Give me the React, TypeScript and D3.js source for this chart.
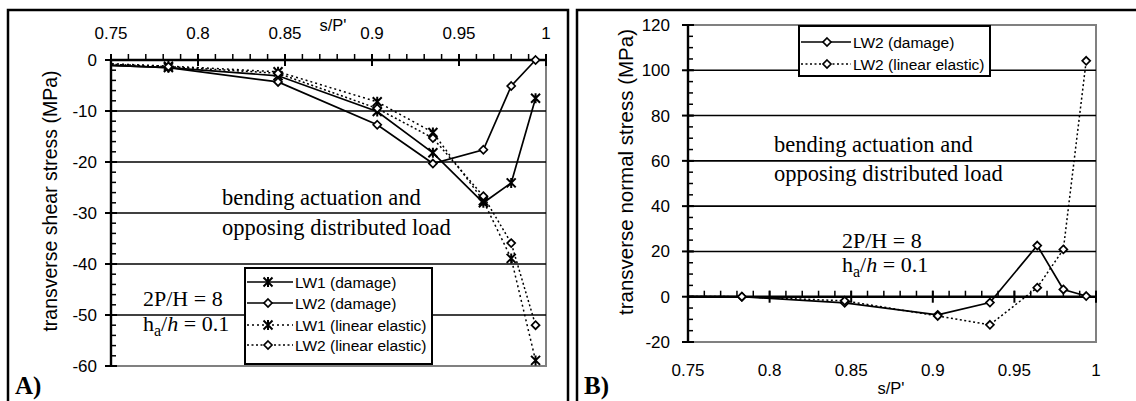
import React from "react";
import * as d3 from "d3";

// ---------- data ----------
const sPos = [0.719, 0.783, 0.846, 0.903, 0.935, 0.964, 0.98, 0.994];

const lw1Damage = [-0.6, -1.5, -3.1, -10.1, -18.2, -28.0, -24.1, -7.5];
const lw2Damage = [-0.6, -1.5, -4.3, -12.7, -20.3, -17.6, -5.1, 0];
const lw1Linear = [-0.3, -1.2, -2.3, -8.2, -14.2, -27.6, -38.9, -58.9];
const lw2Linear = [-0.4, -1.3, -2.6, -9.5, -15.3, -26.7, -35.9, -52.0];

const lw2DamageN = [0.3, 0, -2.7, -8.0, -2.6, 22.6, 3.2, 0.3];
const lw2LinearN = [0.3, 0, -1.8, -8.5, -12.4, 4.0, 20.9, 104.2];

const xTicks = [0.75, 0.8, 0.85, 0.9, 0.95, 1];
const yTicksA = [0, -10, -20, -30, -40, -50, -60];
const yTicksB = [120, 100, 80, 60, 40, 20, 0, -20];

const legendA = ["LW1 (damage)", "LW2 (damage)", "LW1 (linear elastic)", "LW2 (linear elastic)"];
const legendB = ["LW2 (damage)", "LW2 (linear elastic)"];

const SANS = "'Liberation Sans', Arial, sans-serif";
const SERIF = "'Liberation Serif', 'Times New Roman', serif";

type Series = { vals: number[]; marker: "star" | "diamond"; dash?: string };

function Marker({ x, y, kind }: { x: number; y: number; kind: "star" | "diamond" }) {
  if (kind === "star") {
    const r = 4.5;
    return (
      <path
        d={`M${x - r},${y - r}L${x + r},${y + r}M${x - r},${y + r}L${x + r},${y - r}M${x},${y - r - 0.5}L${x},${y + r + 0.5}`}
        stroke="#000"
        strokeWidth={2}
        fill="none"
      />
    );
  }
  const r = 4;
  return (
    <path
      d={`M${x},${y - r}L${x + r},${y}L${x},${y + r}L${x - r},${y}Z`}
      stroke="#000"
      strokeWidth={1.7}
      fill="#fff"
    />
  );
}

function SeriesPlot({
  series,
  x,
  y,
  clipId,
}: {
  series: Series[];
  x: d3.ScaleLinear<number, number>;
  y: d3.ScaleLinear<number, number>;
  clipId: string;
}) {
  const line = d3
    .line<number>()
    .x((_, i) => x(sPos[i]))
    .y((v) => y(v));
  return (
    <g clipPath={`url(#${clipId})`}>
      {series.map((s, k) => (
        <g key={k}>
          <path
            d={line(s.vals) || ""}
            fill="none"
            stroke="#000"
            strokeWidth={s.dash ? 1.5 : 1.7}
            strokeDasharray={s.dash}
          />
          {s.vals.map((v, i) => (
            <Marker key={i} x={x(sPos[i])} y={y(v)} kind={s.marker} />
          ))}
        </g>
      ))}
    </g>
  );
}

function Ticks({
  x,
  y0,
  xAxisY,
  yTickVals,
  yMinorStep,
  xLeft,
}: {
  x: d3.ScaleLinear<number, number>;
  y0: d3.ScaleLinear<number, number>;
  xAxisY: number;
  yTickVals: number[];
  yMinorStep: number;
  xLeft: number;
}) {
  const xMinor = d3.range(0, 26).map((i) => 0.75 + i * 0.01);
  const [ymin, ymax] = y0.domain();
  const nMinor = Math.round((ymax - ymin) / yMinorStep);
  const yMinor = d3.range(0, nMinor + 1).map((i) => ymin + i * yMinorStep);
  return (
    <g stroke="#000">
      <line x1={xLeft} x2={xLeft} y1={y0(ymin)} y2={y0(ymax)} strokeWidth={2.4} />
      {yMinor.map((v, i) => (
        <line key={"ym" + i} x1={xLeft} x2={xLeft + 5} y1={y0(v)} y2={y0(v)} strokeWidth={1.5} />
      ))}
      {yTickVals.map((v, i) => (
        <line key={"yM" + i} x1={xLeft - 6} x2={xLeft + 6} y1={y0(v)} y2={y0(v)} strokeWidth={2} />
      ))}
      <line x1={x(0.75)} x2={x(1)} y1={xAxisY} y2={xAxisY} strokeWidth={2.4} />
      {xMinor.map((v, i) => (
        <line key={"xm" + i} x1={x(v)} x2={x(v)} y1={xAxisY - 6} y2={xAxisY} strokeWidth={1.5} />
      ))}
      {xTicks.map((v, i) => (
        <line key={"xM" + i} x1={x(v)} x2={x(v)} y1={xAxisY - 6} y2={xAxisY + 6} strokeWidth={2} />
      ))}
    </g>
  );
}

function HaText({ x, y }: { x: number; y: number }) {
  return (
    <text x={x} y={y} fontFamily={SERIF} fontSize={22} fill="#000">
      h
      <tspan dy={5} fontSize={16}>
        a
      </tspan>
      <tspan dy={-5}>/</tspan>
      <tspan fontStyle="italic">h</tspan>
      <tspan> = 0.1</tspan>
    </text>
  );
}

export default function App() {
  const xA = d3.scaleLinear().domain([0.75, 1]).range([111, 546]);
  const yA = d3.scaleLinear().domain([-60, 0]).range([366, 60]);
  const xB = d3.scaleLinear().domain([0.75, 1]).range([688, 1096]);
  const yB = d3.scaleLinear().domain([-20, 120]).range([342, 25]);

  const seriesA: Series[] = [
    { vals: lw1Damage, marker: "star" },
    { vals: lw2Damage, marker: "diamond" },
    { vals: lw1Linear, marker: "star", dash: "2,3" },
    { vals: lw2Linear, marker: "diamond", dash: "2,2.5" },
  ];
  const seriesB: Series[] = [
    { vals: lw2DamageN, marker: "diamond" },
    { vals: lw2LinearN, marker: "diamond", dash: "2,2.5" },
  ];

  const legA = { x: 245, y: 268, w: 187, h: 96 };
  const legARows = [282, 303, 325, 345];
  const legB = { x: 799, y: 26, w: 191, h: 50 };
  const legBRows = [42, 64];

  return (
    <svg width={1136} height={401} style={{ position: "absolute", left: 0, top: 0, background: "#fff" }}>
      <defs>
        <clipPath id="clipA">
          <rect x={111} y={0} width={500} height={401} />
        </clipPath>
        <clipPath id="clipB">
          <rect x={688} y={0} width={448} height={401} />
        </clipPath>
        <clipPath id="clipTitleB">
          <rect x={590} y={30} width={80} height={371} />
        </clipPath>
      </defs>
      <rect x={0} y={0} width={1136} height={401} fill="#fff" />

      {/* frames */}
      <path d="M8,401V10H568V401" fill="none" stroke="#000" strokeWidth={2.5} />
      <path d="M577,401V10H1140" fill="none" stroke="#000" strokeWidth={2.5} />

      {/* ================= Panel A ================= */}
      <path d={`M${xA(0.75)},${yA(-60)}H${xA(1)}V${yA(0)}`} fill="none" stroke="#808080" strokeWidth={2} />
      {yTicksA.filter((v) => v !== 0 && v !== -60).map((v) => (
        <line key={v} x1={xA(0.75)} x2={xA(1)} y1={yA(v)} y2={yA(v)} stroke="#000" strokeWidth={1.6} />
      ))}
      <text x={222} y={205} fontFamily={SERIF} fontSize={22.5} fill="#000">bending actuation and</text>
      <text x={222} y={235} fontFamily={SERIF} fontSize={22.5} fill="#000">opposing distributed load</text>
      <text x={143} y={306} fontFamily={SERIF} fontSize={22} fill="#000">2P/H = 8</text>
      <HaText x={143} y={331} />

      <Ticks x={xA} y0={yA} xAxisY={yA(0)} yTickVals={yTicksA} yMinorStep={2} xLeft={xA(0.75)} />
      <SeriesPlot series={seriesA} x={xA} y={yA} clipId="clipA" />

      {xTicks.map((v) => (
        <text key={v} x={xA(v)} y={39} textAnchor="middle" fontFamily={SANS} fontSize={17}>
          {String(v)}
        </text>
      ))}
      {yTicksA.map((v) => (
        <text key={v} x={xA(0.75) - 14} y={yA(v) + 6} textAnchor="end" fontFamily={SANS} fontSize={17}>
          {String(v)}
        </text>
      ))}
      <text x={333} y={31} textAnchor="middle" fontFamily={SANS} fontSize={16.5}>s/P'</text>
      <text
        transform={`translate(57,${201}) rotate(-90)`}
        textAnchor="middle"
        fontFamily={SANS}
        fontSize={19.5}
      >
        transverse shear stress (MPa)
      </text>

      <rect x={legA.x} y={legA.y} width={legA.w} height={legA.h} fill="#fff" stroke="#000" strokeWidth={2} />
      {legendA.map((t, i) => (
        <g key={t}>
          <line
            x1={legA.x + 2}
            x2={legA.x + 48}
            y1={legARows[i]}
            y2={legARows[i]}
            stroke="#000"
            strokeWidth={seriesA[i].dash ? 1.5 : 1.7}
            strokeDasharray={seriesA[i].dash}
          />
          <Marker x={legA.x + 23} y={legARows[i]} kind={seriesA[i].marker} />
          <text x={legA.x + 50} y={legARows[i] + 5.5} fontFamily={SANS} fontSize={15.5}>
            {t}
          </text>
        </g>
      ))}

      <text x={15} y={394} fontFamily={SERIF} fontWeight="bold" fontSize={25}>A)</text>

      {/* ================= Panel B ================= */}
      <path d={`M${xB(0.75)},${yB(-20)}H${xB(1)}V${yB(120)}H${xB(0.75)}`} fill="none" stroke="#808080" strokeWidth={2} />
      {yTicksB.filter((v) => v !== 0 && v !== -20 && v !== 120).map((v) => (
        <line key={v} x1={xB(0.75)} x2={xB(1)} y1={yB(v)} y2={yB(v)} stroke="#000" strokeWidth={1.6} />
      ))}
      <text x={774} y={152} fontFamily={SERIF} fontSize={22.5} fill="#000">bending actuation and</text>
      <text x={774} y={181} fontFamily={SERIF} fontSize={22.5} fill="#000">opposing distributed load</text>
      <text x={842} y={248} fontFamily={SERIF} fontSize={22} fill="#000">2P/H = 8</text>
      <HaText x={842} y={272} />

      <Ticks x={xB} y0={yB} xAxisY={yB(0)} yTickVals={yTicksB} yMinorStep={5} xLeft={xB(0.75)} />
      <SeriesPlot series={seriesB} x={xB} y={yB} clipId="clipB" />

      {xTicks.map((v) => (
        <text key={v} x={xB(v)} y={376} textAnchor="middle" fontFamily={SANS} fontSize={17}>
          {String(v)}
        </text>
      ))}
      {yTicksB.map((v) => (
        <text key={v} x={xB(0.75) - 18} y={yB(v) + 6} textAnchor="end" fontFamily={SANS} fontSize={17}>
          {String(v)}
        </text>
      ))}
      <text x={891} y={394} textAnchor="middle" fontFamily={SANS} fontSize={16.5}>s/P'</text>
      <g clipPath="url(#clipTitleB)">
        <text
          transform={`translate(633,${172}) rotate(-90)`}
          textAnchor="middle"
          fontFamily={SANS}
          fontSize={20.5}
        >
          transverse normal stress (MPa)
        </text>
      </g>

      <rect x={legB.x} y={legB.y} width={legB.w} height={legB.h} fill="#fff" stroke="#000" strokeWidth={2} />
      {legendB.map((t, i) => (
        <g key={t}>
          <line
            x1={legB.x + 2}
            x2={legB.x + 52}
            y1={legBRows[i]}
            y2={legBRows[i]}
            stroke="#000"
            strokeWidth={seriesB[i].dash ? 1.5 : 1.7}
            strokeDasharray={seriesB[i].dash}
          />
          <Marker x={legB.x + 28} y={legBRows[i]} kind={seriesB[i].marker} />
          <text x={legB.x + 54} y={legBRows[i] + 5.5} fontFamily={SANS} fontSize={15.5}>
            {t}
          </text>
        </g>
      ))}

      <text x={584} y={394} fontFamily={SERIF} fontWeight="bold" fontSize={25}>B)</text>
    </svg>
  );
}
